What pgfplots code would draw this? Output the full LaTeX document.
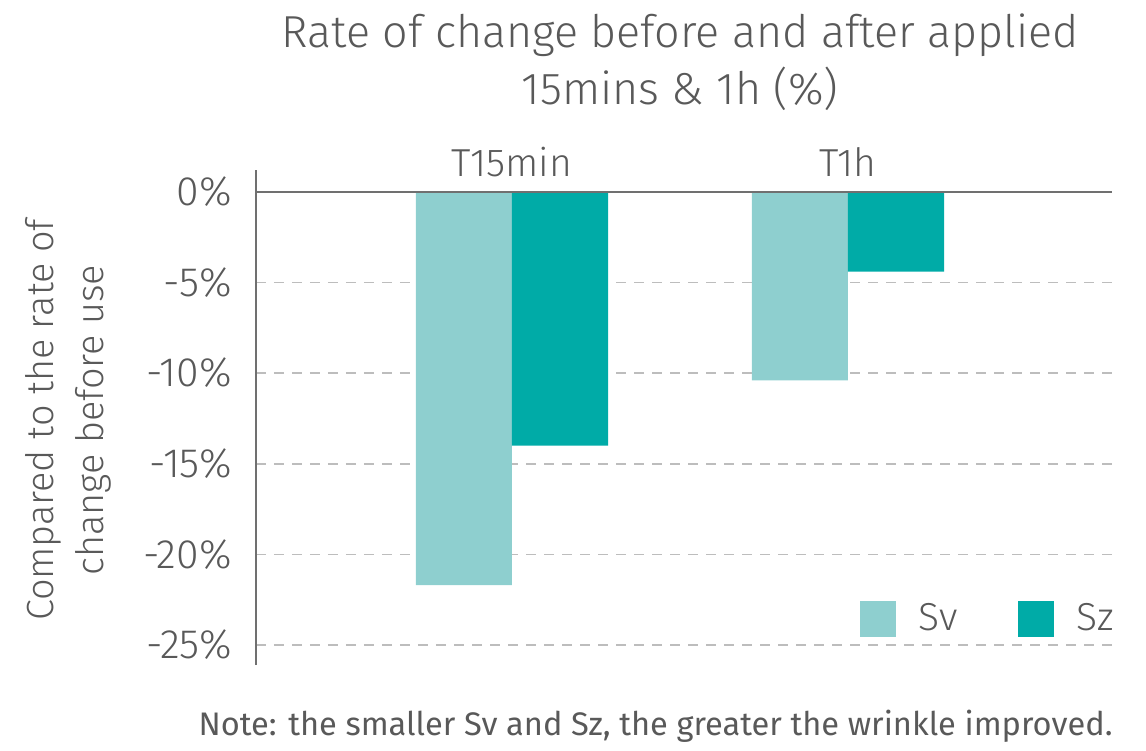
\documentclass[border=0pt]{standalone}
\usepackage{fontspec}
\setmainfont{Fira Sans Light}
\newfontfamily\notefont{Fira Sans}
\usepackage{pgfplots}
\pgfplotsset{compat=1.18}
\definecolor{sv}{HTML}{8ECFCF}
\definecolor{sz}{HTML}{00ABA7}
\definecolor{txt}{HTML}{595959}
\definecolor{axl}{HTML}{707070}
\definecolor{grd}{HTML}{BDBDBD}
\begin{document}
\begin{tikzpicture}
\useasboundingbox (-128pt,-42.5pt) rectangle (445pt,332.5pt);
\begin{axis}[at={(0pt,0pt)}, anchor=south west, scale only axis,
  width=428pt, height=247.5pt, clip=false,
  xmin=-0.762, xmax=1.786, ymin=-26.1, ymax=1.2,
  axis x line=none, axis y line=left,
  axis line style={-, axl, line width=1.2pt},
  ytick={-25,-20,-15,-10,-5,0},
  yticklabels={-25\%,-20\%,-15\%,-10\%,-5\%,0\%},
  major tick length=0pt,
  ymajorgrids, major grid style={grd, line width=0.8pt, dash pattern=on 5pt off 4pt},
  tick label style={font=\fontsize{20.5}{22}\selectfont, text=txt},
  yticklabel style={inner sep=0pt, xshift=-12pt},
  ybar, bar width=0.286,
  legend columns=2,
  legend style={draw=none, fill=none, at={(rel axis cs:1,0)}, anchor=south east,
    yshift=13.5pt, xshift=3pt, inner sep=0pt, font=\fontsize{19.5}{22}\selectfont, text=txt,
    /tikz/every odd column/.append style={column sep=9.5pt},
    /tikz/every even column/.append style={column sep=28pt}},
  legend image code/.code={\fill[#1] (0pt,-9pt) rectangle (18pt,9pt);},
]
\addplot[fill=sv, draw=none, bar shift=-0.143] coordinates {(0,-21.7) (1,-10.4)};
\addlegendentry{Sv}
\addplot[fill=sz, draw=none, bar shift=0.143] coordinates {(0,-14.0) (1,-4.4)};
\addlegendentry{Sz}
\draw[axl, line width=1.2pt] (axis cs:-0.762,0) -- (axis cs:1.786,0);
\node[anchor=base, text=txt, font=\fontsize{19.5}{22}\selectfont, yshift=7.5pt] at (axis cs:0,0) {T15min};
\node[anchor=base, text=txt, font=\fontsize{19.5}{22}\selectfont, yshift=7.5pt] at (axis cs:1,0) {T1h};
\end{axis}
\node[text=txt, font=\fontsize{22.4}{28.5}\selectfont, anchor=base, inner sep=0pt] at (212pt,308.5pt)
  {Rate of change before and after applied};
\node[text=txt, font=\fontsize{22.4}{28.5}\selectfont, anchor=base, inner sep=0pt] at (212pt,280pt)
  {15mins \& 1h (\%)};
\node[text=txt, font=\fontsize{18.9}{25}\selectfont, align=center, rotate=90] at (-94pt,122.5pt)
  {Compared to the rate of\\change before use};
\node[text=txt, font=\notefont\fontsize{16.3}{18}\selectfont, anchor=base east, inner sep=0pt] at (428.5pt,-35pt)
  {Note: the smaller Sv and Sz, the greater the wrinkle improved.};
\end{tikzpicture}
\end{document}
